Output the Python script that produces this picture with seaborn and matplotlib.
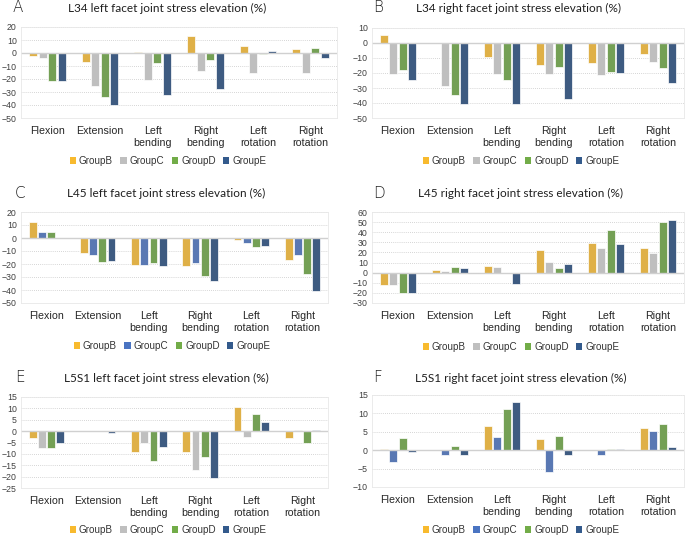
import pandas as pd
import matplotlib
matplotlib.use("Agg")
import matplotlib.pyplot as plt
import seaborn as sns
from matplotlib.patches import Patch

# movements (x categories) and groups
movements = ["Flexion", "Extension", "Left\nbending", "Right\nbending", "Left\nrotation", "Right\nrotation"]
groups = ["GroupB", "GroupC", "GroupD", "GroupE"]

# stress elevation (%) per panel, one list per group (order of movements)
l34_left = {
    "GroupB": [-2, -7, 1, 13, 5.5, 3],
    "GroupC": [-3.5, -25, -21, -13.5, -15.5, -15.5],
    "GroupD": [-21.5, -34, -8, -5, -1, 4],
    "GroupE": [-21.5, -40, -32, -27.5, 1.5, -4],
}
l34_right = {
    "GroupB": [5, 0, -9.5, -15, -13.5, -7.5],
    "GroupC": [-20.5, -28.5, -21, -20.5, -21.5, -12.5],
    "GroupD": [-18, -34.5, -25, -16, -19.5, -17],
    "GroupE": [-25, -40.5, -40.5, -37.5, -20, -27],
}
l45_left = {
    "GroupB": [12, -11.5, -20.5, -21.5, -1.5, -17],
    "GroupC": [4.5, -13, -20.5, -19, -3.5, -13],
    "GroupD": [4.5, -18.5, -19.5, -29.5, -7, -27.5],
    "GroupE": [0, -18, -21.5, -33, -6.5, -40.5],
}
l45_right = {
    "GroupB": [-12, 3, 6.5, 22, 29.5, 24.5],
    "GroupC": [-12, 1.5, 5.5, 11, 24.5, 19],
    "GroupD": [-20.5, 5.5, 0, 4.5, 42, 50],
    "GroupE": [-20.5, 4.5, -11, 9, 28.5, 52.5],
}
l5s1_left = {
    "GroupB": [-3, 0, -9, -9, 10.5, -3],
    "GroupC": [-7.5, 0, -5, -17, -2.5, 0.5],
    "GroupD": [-7.5, 0, -13, -11.5, 7.5, -5],
    "GroupE": [-5, -1, -7, -20.5, 4, 0.5],
}
l5s1_right = {
    "GroupB": [0.3, 0, 6.5, 3.1, 0, 6.1],
    "GroupC": [-3.3, -1.3, 3.7, -5.8, -1.3, 5.1],
    "GroupD": [3.3, 1.2, 11.3, 3.8, 0.4, 7.2],
    "GroupE": [-0.5, -1.3, 13.2, -1.3, 0.4, 0.9],
}

orange = "#F8BA2E"
gray = "#BFBFBF"
green = "#72AC48"
navy = "#335A8C"
blue = "#4A74C2"

W, H = 685, 537
plt.rcParams["font.family"] = ["Liberation Sans", "DejaVu Sans"]

fig = plt.figure(figsize=(W / 100, H / 100), dpi=100)

# (letter, title, data, palette, ylim, step, axes box px [x0, x1, y0, y1], letter xy, title xy, legend xy)
panels = [
    ("A", "L34 left facet joint stress elevation (%)", l34_left, [orange, gray, green, navy],
     (-50, 20), 10, (21, 337, 27, 118), (13, 8), (167, 8), (168, 161)),
    ("B", "L34 right facet joint stress elevation (%)", l34_right, [orange, gray, green, navy],
     (-50, 10), 10, (372, 684, 28, 118), (373, 8), (519, 8), (521, 161)),
    ("C", "L45 left facet joint stress elevation (%)", l45_left, [orange, blue, green, navy],
     (-50, 20), 10, (21, 328, 212, 303), (15, 193), (166, 193), (172, 346)),
    ("D", "L45 right facet joint stress elevation (%)", l45_right, [orange, gray, green, navy],
     (-30, 60), 10, (372, 684, 212, 303), (373, 193), (520, 193), (521, 347)),
    ("E", "L5S1 left facet joint stress elevation (%)", l5s1_left, [orange, gray, green, navy],
     (-25, 15), 5, (21, 328, 397, 488), (15, 378), (166, 378), (168, 530)),
    ("F", "L5S1 right facet joint stress elevation (%)", l5s1_right, [orange, blue, green, navy],
     (-10, 15), 5, (372, 684, 395, 487), (373, 378), (521, 378), (521, 530)),
]

for letter, title, data, pal, ylim, step, box, lxy, txy, gxy in panels:
    x0, x1, y0, y1 = box
    ax = fig.add_axes([x0 / W, 1 - y1 / H, (x1 - x0) / W, (y1 - y0) / H])

    rows = []
    for g in groups:
        for m, v in zip(movements, data[g]):
            rows.append({"movement": m, "group": g, "value": v})
    df = pd.DataFrame(rows)

    sns.barplot(data=df, x="movement", y="value", hue="group", order=movements,
                hue_order=groups, palette=pal, width=0.72, gap=0.15,
                edgecolor="white", linewidth=0.5, legend=False, ax=ax)

    ax.set_ylim(*ylim)
    ax.set_yticks(range(ylim[0], ylim[1] + 1, step))
    ax.set_xlim(-0.5, len(movements) - 0.5)
    ax.set_axisbelow(True)
    ax.yaxis.grid(True, linestyle=(0, (1, 1.5)), color="#C8C8C8", linewidth=0.6)
    ax.axhline(0, color="#D0D0D0", linewidth=1.0, zorder=1)
    ax.set_xlabel("")
    ax.set_ylabel("")
    ax.tick_params(axis="both", length=0)
    ax.tick_params(axis="y", labelsize=6.3, colors="#404040", pad=3)
    ax.tick_params(axis="x", labelsize=7.7, colors="#262626", pad=6)
    for s in ax.spines.values():
        s.set_color("#E8E8E8")
        s.set_linewidth(0.6)

    fig.text(lxy[0] / W, 1 - lxy[1] / H, letter, fontsize=11, ha="left", va="center",
             color="#222222", family=["DejaVu Sans"], fontweight="light")
    fig.text(txy[0] / W, 1 - txy[1] / H, title, fontsize=8.5, ha="center", va="center",
             color="#1f1f1f", family=["Lato", "DejaVu Sans"])

    handles = [Patch(facecolor=c, edgecolor="none") for c in pal]
    fig.legend(handles, groups, loc="center", bbox_to_anchor=(gxy[0] / W, 1 - gxy[1] / H),
               ncol=4, frameon=False, fontsize=7.1, handlelength=0.65, handleheight=0.65,
               handletextpad=0.3, columnspacing=0.75, borderaxespad=0, borderpad=0,
               labelcolor="#333333")

fig.savefig("out.png", dpi=100, facecolor="white")
